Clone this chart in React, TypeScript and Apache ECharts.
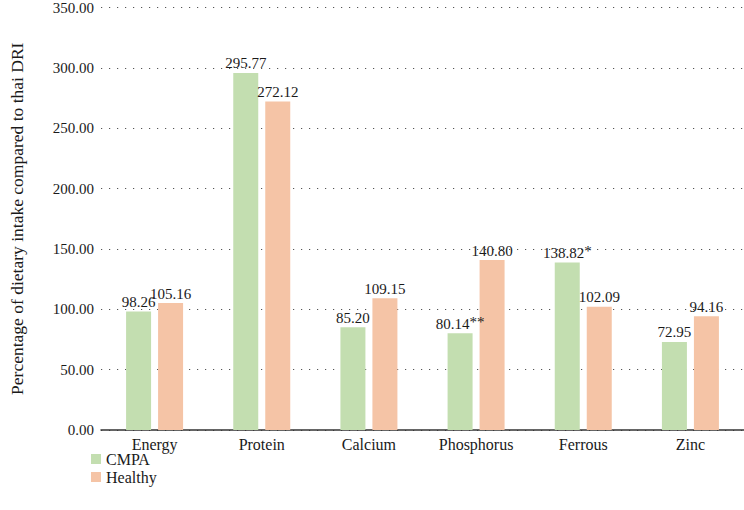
import React, { useEffect, useRef } from "react";
import * as echarts from "echarts";

const categories = ["Energy", "Protein", "Calcium", "Phosphorus", "Ferrous", "Zinc"];
const cmpaValues = [98.26, 295.77, 85.2, 80.14, 138.82, 72.95];
const healthyValues = [105.16, 272.12, 109.15, 140.8, 102.09, 94.16];
const cmpaMarks = ["", "", "", "**", "*", ""];
const healthyMarks = ["", "", "", "", "", ""];
const yTicks = [0, 50, 100, 150, 200, 250, 300, 350];

const FONT = "Liberation Serif";

export default function App() {
  const ref = useRef<HTMLDivElement>(null);
  useEffect(() => {
    document.body.style.margin = "0";
    const chart = echarts.init(ref.current!, null, { renderer: "svg" });
    const labelFor = (marks: string[]) => ({
      show: true,
      position: "top",
      distance: 2,
      formatter: (p: any) => {
        const m = marks[p.dataIndex];
        return m ? `{v|${p.value.toFixed(2)}}{s|${m}}` : `{v|${p.value.toFixed(2)}}`;
      },
      rich: {
        v: { fontFamily: FONT, fontSize: 15, color: "#1a1a1a", lineHeight: 17, verticalAlign: "bottom" },
        s: { fontFamily: FONT, fontSize: 15, color: "#1a1a1a", verticalAlign: "top", lineHeight: 17, padding: [0, 0, 4, 0] },
      },
    });
    chart.setOption({
      animation: false,
      textStyle: { fontFamily: FONT },
      grid: { left: 88, right: 0, top: 6, bottom: 80 },
      legend: {
        orient: "vertical",
        left: 86,
        top: 446,
        itemWidth: 10,
        itemHeight: 10,
        itemGap: 2,
        icon: "rect",
        textStyle: { fontFamily: FONT, fontSize: 16, color: "#1a1a1a" },
        data: ["CMPA", "Healthy"],
      },
      xAxis: {
        type: "category",
        data: categories,
        axisLine: { lineStyle: { color: "#333", width: 1.5 } },
        axisTick: { show: false },
        axisLabel: { fontFamily: FONT, fontSize: 16, color: "#1a1a1a", margin: 6 },
      },
      yAxis: {
        type: "value",
        min: 0,
        max: 350,
        interval: 50,
        name: "Percentage of dietary intake compared to thai DRI",
        nameLocation: "middle",
        nameGap: 75,
        nameTextStyle: { fontFamily: FONT, fontSize: 17.5, color: "#1a1a1a" },
        axisLine: { show: false },
        axisTick: { show: false },
        axisLabel: {
          fontFamily: FONT,
          fontSize: 15,
          color: "#1a1a1a",
          margin: 7,
          formatter: (v: number) => (yTicks.includes(v) ? v.toFixed(2) : ""),
        },
        splitLine: { lineStyle: { type: [1.2, 6.8], color: "#555", width: 1.2 } },
      },
      series: [
        {
          name: "CMPA",
          type: "bar",
          data: cmpaValues,
          barWidth: 25,
          barGap: "28%",
          itemStyle: { color: "#c3deb0" },
          label: labelFor(cmpaMarks),
        },
        {
          name: "Healthy",
          type: "bar",
          data: healthyValues,
          barWidth: 25,
          itemStyle: { color: "#f5c4a6" },
          label: labelFor(healthyMarks),
        },
      ],
    });
    return () => chart.dispose();
  }, []);
  return <div ref={ref} style={{ width: 744, height: 510 }} />;
}
